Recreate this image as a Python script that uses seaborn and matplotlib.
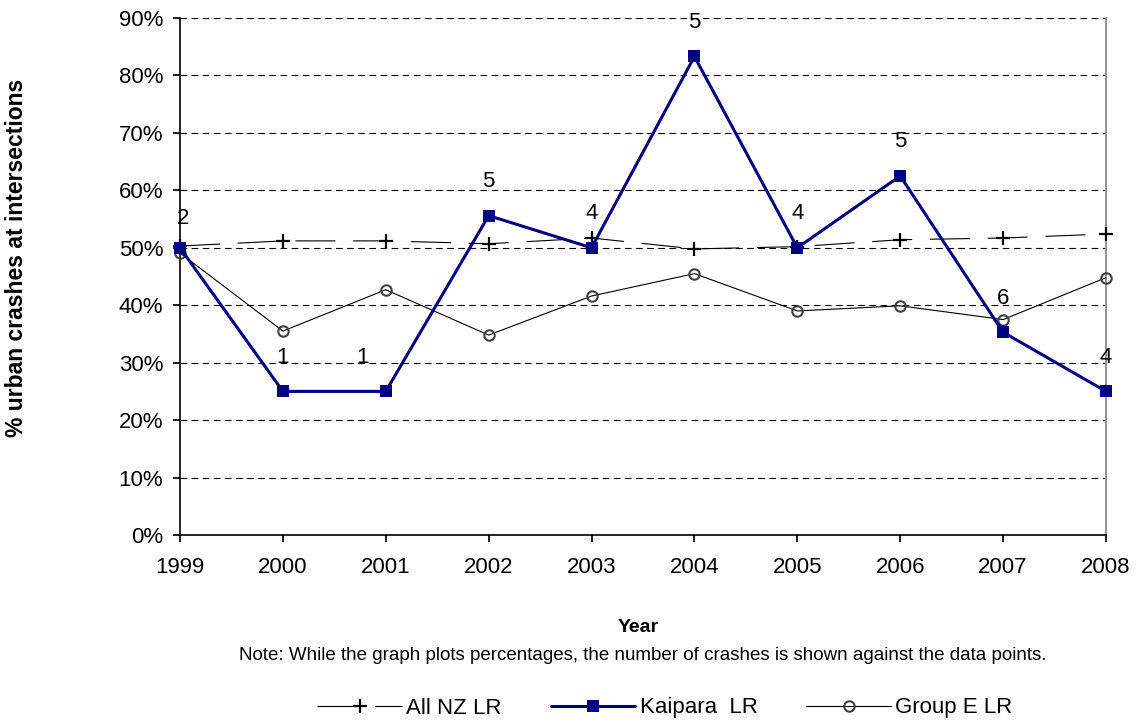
import matplotlib
matplotlib.use("Agg")
import matplotlib.pyplot as plt
import seaborn as sns
import pandas as pd
from matplotlib.ticker import PercentFormatter

years = [1999, 2000, 2001, 2002, 2003, 2004, 2005, 2006, 2007, 2008]
all_nz = [50.3, 51.2, 51.2, 50.7, 51.7, 49.8, 50.2, 51.4, 51.7, 52.4]
kaipara = [50.0, 25.0, 25.0, 55.6, 50.0, 83.3, 50.0, 62.5, 35.3, 25.0]
group_e = [49.1, 35.5, 42.7, 34.8, 41.6, 45.5, 39.0, 39.9, 37.5, 44.8]
counts = ["2", "1", "1", "5", "4", "5", "4", "5", "6", "4"]

sns.set_theme(style="white")
plt.rcParams['font.family'] = ['Liberation Sans', 'DejaVu Sans']
plt.rcParams['text.color'] = 'black'

fig = plt.figure(figsize=(11.36, 7.26), dpi=100)
ax = fig.add_axes([180/1136, 1-535/726, (1106-180)/1136, (535-18)/726])

df = pd.DataFrame({"Year": years, "All NZ LR": all_nz, "Kaipara  LR": kaipara, "Group E LR": group_e})

for v in range(10, 100, 10):
    ax.axhline(v, color="black", lw=0.8, ls=(0, (6, 4)), zorder=0)

sns.lineplot(data=df, x="Year", y="All NZ LR", ax=ax, color="black", lw=0.8,
             marker="+", markersize=10, markeredgewidth=1.6, markeredgecolor="black",
             linestyle=(0, (36, 16)), label="All NZ LR", zorder=3, clip_on=False)
sns.lineplot(data=df, x="Year", y="Group E LR", ax=ax, color="black", lw=0.8,
             marker="o", markersize=7.5, markerfacecolor="none", markeredgecolor="#404040",
             markeredgewidth=1.5, label="Group E LR", zorder=3, clip_on=False)
sns.lineplot(data=df, x="Year", y="Kaipara  LR", ax=ax, color="#000080", lw=2.2,
             marker="s", markersize=8.5, markeredgewidth=0, markeredgecolor="#000080",
             label="Kaipara  LR", zorder=4, clip_on=False)

offsets = {2001: -17, 1999: 2}
for yr, val, c in zip(years, kaipara, counts):
    dx = offsets.get(yr, 0)
    dy = 21 if yr == 1999 else 24.5
    ax.annotate(c, (yr, val), xytext=(dx, dy), textcoords="offset points",
                ha="center", va="center", fontsize=16, color="black", annotation_clip=False)

ax.set_xlim(1999, 2008)
ax.set_ylim(0, 90)
ax.set_xticks(years)
ax.set_xticklabels([str(y) for y in years])
ax.set_yticks(range(0, 100, 10))
ax.yaxis.set_major_formatter(PercentFormatter(decimals=0))
ax.tick_params(axis="both", labelsize=16, colors="black", length=5, direction="out",
               left=True, bottom=True, pad=7)
ax.tick_params(axis="x", pad=11)
ax.spines["top"].set_visible(False)
ax.spines["left"].set_color("black")
ax.spines["bottom"].set_color("black")
ax.spines["right"].set_color("#808080")
for s in ["left", "bottom", "right"]:
    ax.spines[s].set_linewidth(1.2)

ax.set_xlabel("")
ax.set_ylabel("")
fig.text(17/1136, 1-258/726, "% urban crashes at intersections", rotation=90,
         ha="center", va="center", fontsize=16.5, fontweight="bold", color="black")
fig.text(638/1136, 1-627/726, "Year", ha="center", va="center", fontsize=14, fontweight="bold", color="black")
fig.text(643/1136, 1-656/726, "Note: While the graph plots percentages, the number of crashes is shown against the data points.",
         ha="center", va="center", fontsize=13.5, color="black")

h, l = ax.get_legend_handles_labels()
order = [l.index("All NZ LR"), l.index("Kaipara  LR"), l.index("Group E LR")]
leg = ax.legend([h[i] for i in order], [l[i] for i in order], loc="center",
                bbox_to_anchor=(665/1136, 1-708/726), bbox_transform=fig.transFigure,
                ncol=3, frameon=False, fontsize=16, handlelength=3.8, columnspacing=2.2,
                handletextpad=0.2, borderpad=0)
for t in leg.get_texts():
    t.set_color("black")

fig.savefig("out.png", dpi=100)
